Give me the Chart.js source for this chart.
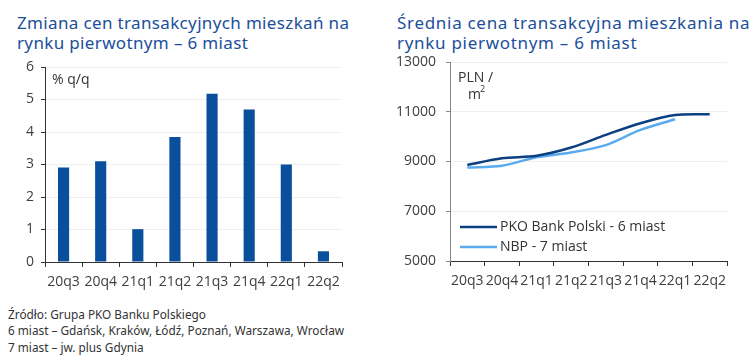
<!DOCTYPE html>
<html><head><meta charset="utf-8">
<script src="https://cdn.jsdelivr.net/npm/chart.js@4.4.0/dist/chart.umd.min.js"></script>
<style>
html,body{margin:0;padding:0;background:#fff;width:750px;height:355px;overflow:hidden;font-family:"Noto Sans",sans-serif;}
.title{position:absolute;color:#1b4f9b;font-size:17px;line-height:20px;font-family:"Noto Sans",sans-serif;white-space:nowrap;letter-spacing:0.7px}
#t1{left:17px;top:13px;letter-spacing:0.35px}
#t2{left:397px;top:13px}
.box{position:absolute;}
#b1{left:0;top:55px;width:360px;height:240px}
#b2{left:380px;top:55px;width:370px;height:240px}
#foot{position:absolute;left:8px;top:306px;font-size:11.8px;line-height:16.3px;color:#333;font-family:"Noto Sans",sans-serif;}
</style></head><body>
<div class="title" id="t1">Zmiana cen transakcyjnych mieszkań na<br>rynku pierwotnym – 6 miast</div>
<div class="title" id="t2">Średnia cena transakcyjna mieszkania na<br>rynku pierwotnym – 6 miast</div>
<div class="box" id="b1"><canvas id="c1"></canvas></div>
<div class="box" id="b2"><canvas id="c2"></canvas></div>
<div id="foot">Źródło: Grupa PKO Banku Polskiego<br>6 miast – Gdańsk, Kraków, Łódź, Poznań, Warszawa, Wrocław<br>7 miast – jw. plus Gdynia</div>
<script>
const categories = ["20q3","20q4","21q1","21q2","21q3","21q4","22q1","22q2"];
const changeQoQ = [2.91, 3.10, 1.01, 3.85, 5.18, 4.69, 3.00, 0.33];
const pkoPrice = [8860, 9130, 9230, 9560, 10070, 10540, 10870, 10900];
const nbpPrice = [8760, 8830, 9170, 9360, 9660, 10270, 10700, null];
const leftTicks = [0,1,2,3,4,5,6];
const rightTicks = [5000,7000,9000,11000,13000];
const legendLabels = ["PKO Bank Polski - 6 miast","NBP - 7 miast"];

const tickFont = {family:"Open Sans", size:14};
const tickColor = "#404040";

const unitPlugin = {
  id:'unit',
  afterDraw(chart, args, opts){
    const ctx = chart.ctx, a = chart.chartArea;
    ctx.save();
    ctx.fillStyle = "#333";
    ctx.font = "14px 'Open Sans'";
    ctx.textBaseline = "middle";
    (opts.lines||[]).forEach((l,i)=>{
      ctx.fillText(l.text, a.left + l.dx, a.top + l.dy);
    });
    if (opts.sup){
      ctx.font = "9px 'Open Sans'";
      ctx.fillText(opts.sup.text, a.left + opts.sup.dx, a.top + opts.sup.dy);
    }
    ctx.restore();
  }
};

const legendPlugin = {
  id:'inlegend',
  afterDraw(chart, args, opts){
    if(!opts.show) return;
    const ctx = chart.ctx, a = chart.chartArea;
    ctx.save();
    ctx.font = "14px 'Open Sans'";
    ctx.textBaseline = "middle";
    chart.data.datasets.forEach((ds,i)=>{
      const y = a.top + opts.top + i*opts.gap;
      const x = a.left + opts.left;
      ctx.strokeStyle = ds.borderColor;
      ctx.lineWidth = 2.5;
      ctx.beginPath(); ctx.moveTo(x,y); ctx.lineTo(x+37,y); ctx.stroke();
      ctx.fillStyle = "#333";
      ctx.fillText(ds.label, x+40, y);
    });
    ctx.restore();
  }
};

function yFit(w){ return function(s){ s.width = w; s.paddingTop = 0; s.paddingBottom = 0; }; }

new Chart(document.getElementById('c1'), {
  type:'bar',
  data:{labels:categories, datasets:[{data:changeQoQ, backgroundColor:"#0a4f9c", categoryPercentage:1.0, barPercentage:0.3}]},
  options:{
    responsive:true, maintainAspectRatio:false, animation:false,
    layout:{padding:{top:12,right:18,left:0,bottom:0}},
    plugins:{legend:{display:false}, tooltip:{enabled:false},
      unit:{lines:[{text:"% q/q", dx:7, dy:13}]}, inlegend:{show:false}},
    scales:{
      x:{grid:{offset:true, drawOnChartArea:false, drawTicks:true, tickLength:5, tickColor:"#333"},
         border:{color:"#333", width:1},
         ticks:{font:tickFont, color:tickColor, padding:7, maxRotation:0, autoSkip:false},
         afterFit(s){ s.height = 33; s.paddingLeft = 0; s.paddingRight = 0; }},
      y:{min:0, max:6, afterBuildTicks(s){ s.ticks = leftTicks.map(v=>({value:v})); },
         grid:{color:"#efefef", tickColor:"#333", tickLength:4},
         border:{color:"#333", width:1},
         ticks:{font:tickFont, color:tickColor, padding:7},
         afterFit: yFit(45)}
    }
  },
  plugins:[unitPlugin, legendPlugin]
});

new Chart(document.getElementById('c2'), {
  type:'line',
  data:{labels:categories, datasets:[
    {label:legendLabels[0], data:pkoPrice, borderColor:"#0b3f80", borderWidth:2.5, pointRadius:0, tension:0.3, fill:false},
    {label:legendLabels[1], data:nbpPrice, borderColor:"#5aaaf0", borderWidth:2.5, pointRadius:0, tension:0.3, fill:false}
  ]},
  options:{
    responsive:true, maintainAspectRatio:false, animation:false,
    layout:{padding:{top:7,right:23,left:0,bottom:0}},
    plugins:{legend:{display:false}, tooltip:{enabled:false},
      unit:{lines:[{text:"PLN /", dx:8, dy:16},{text:"m", dx:18, dy:33}], sup:{text:"2", dx:30, dy:27}},
      inlegend:{show:true, left:10, top:165, gap:20}},
    scales:{
      x:{offset:true, grid:{offset:true, drawOnChartArea:false, drawTicks:true, tickLength:5, tickColor:"#333"},
         border:{color:"#333", width:1},
         ticks:{font:tickFont, color:tickColor, padding:7, maxRotation:0, autoSkip:false},
         afterFit(s){ s.height = 34; s.paddingLeft = 0; s.paddingRight = 0; }},
      y:{min:5000, max:13000, afterBuildTicks(s){ s.ticks = rightTicks.map(v=>({value:v})); },
         grid:{color:"#efefef", tickColor:"#888", tickLength:4},
         border:{color:"#888", width:1},
         ticks:{font:tickFont, color:tickColor, padding:10, callback:(v)=>String(v)},
         afterFit: yFit(70)}
    }
  },
  plugins:[unitPlugin, legendPlugin]
});
</script>
</body></html>
